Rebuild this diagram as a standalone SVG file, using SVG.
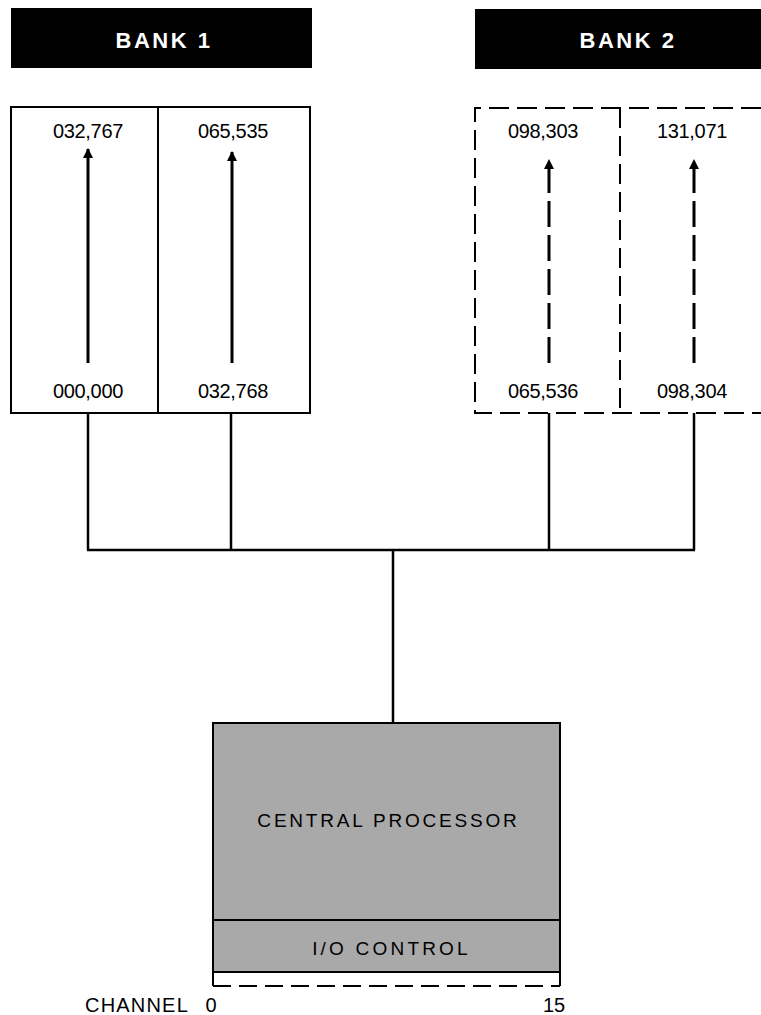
<svg xmlns="http://www.w3.org/2000/svg" width="761" height="1015" viewBox="0 0 761 1015">
<style>
.bar{fill:#000}
.bartxt{font-family:"Liberation Sans",Arial,sans-serif;font-weight:bold;font-size:22px;fill:#fff;letter-spacing:2.5px;text-anchor:middle}
.num{font-family:"Liberation Sans",Arial,sans-serif;font-size:20px;fill:#000;letter-spacing:-0.3px;text-anchor:middle}
.lab{font-family:"Liberation Sans",Arial,sans-serif;font-size:19px;fill:#000;text-anchor:middle}
.ch{font-family:"Liberation Sans",Arial,sans-serif;font-size:20px;fill:#000}
.solid{fill:none;stroke:#000;stroke-width:2}
.dash{fill:none;stroke:#000;stroke-width:2;stroke-dasharray:20 8}
.arr{fill:none;stroke:#000;stroke-width:3;marker-end:url(#ah)}
.arrd{fill:none;stroke:#000;stroke-width:3;stroke-dasharray:26 8;marker-end:url(#ah)}
.conn{fill:none;stroke:#000;stroke-width:2.5}
</style>
<defs>
<marker id="ah" viewBox="0 0 10 14" refX="9" refY="7" markerWidth="10" markerHeight="14" markerUnits="userSpaceOnUse" orient="auto">
<path d="M0,2 L10,7 L0,12 Z" fill="#000"/>
</marker>
</defs>
<rect width="761" height="1015" fill="#fff"/>

<g id="bank1-label">
<rect class="bar" x="11" y="8" width="301" height="60"/>
<text class="bartxt" x="164" y="48">BANK 1</text>
</g>
<g id="bank2-label">
<rect class="bar" x="475" y="9" width="286" height="60"/>
<text class="bartxt" x="628" y="48">BANK 2</text>
</g>

<g id="bank1">
<rect class="solid" x="11" y="107" width="299" height="306"/>
<line class="solid" x1="158" y1="107" x2="158" y2="413"/>
<text class="num" x="88" y="138">032,767</text>
<text class="num" x="233" y="138">065,535</text>
<text class="num" x="88" y="398">000,000</text>
<text class="num" x="233" y="398">032,768</text>
<line class="arr" x1="88" y1="363" x2="88" y2="149"/>
<line class="arr" x1="232" y1="363" x2="232" y2="152"/>
</g>

<g id="bank2">
<path class="dash" d="M761,108 L475,108 L475,413 L761,413"/>
<line class="dash" x1="620" y1="108" x2="620" y2="413"/>
<text class="num" x="543" y="138">098,303</text>
<text class="num" x="692" y="138">131,071</text>
<text class="num" x="543" y="398">065,536</text>
<text class="num" x="692" y="398">098,304</text>
<line class="arrd" x1="549" y1="363" x2="549" y2="160"/>
<line class="arrd" x1="694" y1="363" x2="694" y2="160"/>
</g>

<g id="connectors">
<line class="conn" x1="88" y1="413" x2="88" y2="550"/>
<line class="conn" x1="231" y1="413" x2="231" y2="550"/>
<line class="conn" x1="549" y1="413" x2="549" y2="550"/>
<line class="conn" x1="694" y1="413" x2="694" y2="550"/>
<line class="conn" x1="87" y1="550" x2="695" y2="550"/>
<line class="conn" x1="393" y1="550" x2="393" y2="723"/>
</g>

<g id="central-processor">
<rect x="213" y="723" width="347" height="249" fill="#a9a9a9" stroke="#000" stroke-width="2"/>
<line class="solid" x1="213" y1="920" x2="560" y2="920"/>
<text class="lab" x="388.5" y="827" style="letter-spacing:2.8px">CENTRAL PROCESSOR</text>
<text class="lab" x="391.5" y="955" style="letter-spacing:3.2px">I/O CONTROL</text>
<line class="solid" x1="213" y1="972" x2="213" y2="986"/>
<line class="solid" x1="560" y1="972" x2="560" y2="986"/>
<line class="dash" x1="213" y1="986" x2="560" y2="986" style="stroke-dasharray:18 8"/>
<text class="ch" x="85" y="1012" style="letter-spacing:1.2px">CHANNEL</text>
<text class="ch" x="211" y="1012" text-anchor="middle">0</text>
<text class="ch" x="543" y="1012">15</text>
</g>
</svg>
